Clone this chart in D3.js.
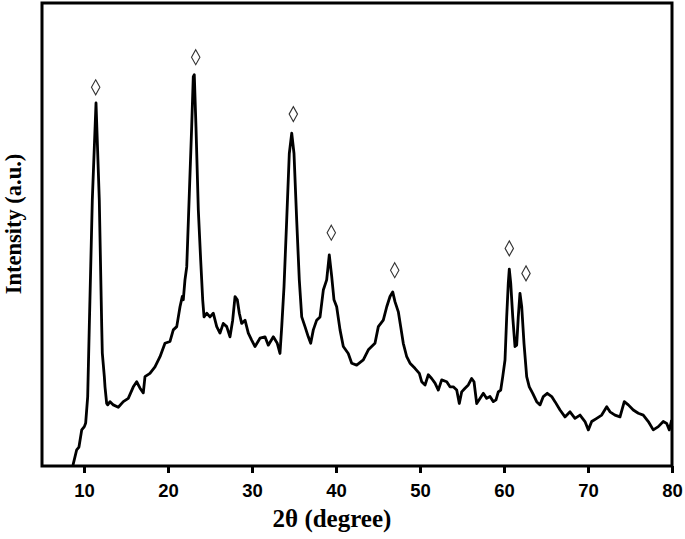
<!DOCTYPE html>
<html>
<head>
<meta charset="utf-8">
<script src="https://cdn.jsdelivr.net/npm/d3@7"></script>
<style>
  body { margin: 0; background: #fff; }
  .axis text { font-family: "Liberation Sans", Arial, sans-serif; font-weight: bold; font-size: 18.5px; fill: #000; }
  .axis line { stroke: #000; stroke-width: 3; }
  .axis path { display: none; }
  .axis_title { font-family: "Liberation Serif", "Times New Roman", serif; font-weight: bold; fill: #000; }
</style>
</head>
<body>
<div id="chart"></div>
<script>

// 2theta (degree)
let twoTheta = [8.69, 9.13, 9.40, 9.73, 10.04, 10.20, 10.44, 10.63, 10.99, 11.43,
    11.82, 12.11, 12.18, 12.42, 12.50, 12.70, 12.82, 13.10, 13.49, 14.08,
    14.68, 15.27, 15.87, 16.27, 16.67, 17.06, 17.26, 17.85, 18.45, 19.05,
    19.64, 20.24, 20.63, 21.04, 21.43, 21.70, 21.82, 22.02, 22.23, 22.54,
    22.82, 23.01, 23.13, 23.33, 23.61, 23.89, 24.13, 24.29, 24.61, 25.00,
    25.39, 25.80, 26.19, 26.58, 26.99, 27.38, 27.70, 27.98, 28.25, 28.49,
    28.77, 29.17, 29.56, 29.96, 30.36, 30.95, 31.55, 31.94, 32.54, 33.01,
    33.33, 33.54, 33.81, 34.13, 34.44, 34.73, 35.00, 35.32, 35.63, 35.92,
    36.31, 36.70, 36.99, 37.30, 37.70, 38.10, 38.49, 38.89, 39.20, 39.49,
    39.76, 40.08, 40.48, 40.87, 41.46, 41.87, 42.46, 43.25, 43.85, 44.64,
    45.04, 45.63, 46.04, 46.43, 46.75, 47.02, 47.42, 47.70, 48.01, 48.42,
    48.81, 49.40, 49.92, 50.20, 50.60, 50.99, 51.39, 51.79, 52.18, 52.58,
    53.18, 53.57, 53.96, 54.37, 54.68, 54.96, 55.36, 55.75, 56.15, 56.43,
    56.75, 57.14, 57.54, 57.94, 58.33, 58.73, 59.05, 59.32, 59.61, 59.85,
    60.12, 60.32, 60.51, 60.63, 60.80, 61.04, 61.31, 61.51, 61.70, 61.90,
    62.11, 62.38, 62.70, 63.01, 63.42, 63.89, 64.29, 64.68, 65.15, 65.68,
    66.07, 66.67, 67.26, 67.86, 68.45, 69.05, 69.64, 70.04, 70.44, 71.04,
    71.63, 72.23, 72.62, 73.21, 73.81, 74.32, 74.80, 75.39, 75.99, 76.58,
    77.18, 77.77, 78.37, 78.96, 79.37, 79.68, 79.96];

// intensity (a.u.)
let intensity = [2, 35, 41, 78, 85, 93, 150, 301, 575, 784,
    575, 301, 244, 193, 171, 135, 132, 139, 132, 127,
    139, 146, 171, 182, 168, 158, 193, 200, 214, 236,
    265, 269, 294, 301, 344, 366, 359, 402, 430, 589,
    733, 841, 845, 733, 553, 445, 359, 322, 330, 322,
    330, 301, 287, 308, 301, 279, 315, 366, 359, 330,
    308, 315, 287, 272, 258, 276, 279, 261, 279, 265,
    243, 301, 387, 531, 675, 719, 675, 531, 402, 322,
    301, 279, 265, 294, 315, 322, 380, 402, 456, 409,
    359, 344, 294, 258, 243, 222, 218, 229, 251, 265,
    301, 315, 344, 366, 376, 355, 333, 301, 265, 236,
    222, 211, 200, 182, 175, 197, 189, 179, 164, 186,
    182, 171, 171, 164, 135, 160, 168, 175, 189, 182,
    135, 146, 157, 146, 150, 139, 143, 160, 164, 193,
    229, 322, 395, 425, 395, 322, 258, 261, 322, 373,
    344, 265, 193, 171, 157, 139, 132, 150, 157, 150,
    139, 121, 106, 117, 103, 110, 96, 78, 96, 103,
    110, 128, 117, 110, 106, 139, 132, 121, 114, 110,
    96, 78, 85, 96, 92, 78, 99];

// diamond markers above the reflections
let markerTheta = [11.39, 23.30, 34.92, 39.44, 46.99, 60.63, 62.62];
let markerLevel = [818, 883, 760, 504, 423, 470, 416];

let xTicks = [10, 20, 30, 40, 50, 60, 70, 80];

let data = twoTheta.map((t, i) => ({ x: t, y: intensity[i] }));
let markers = markerTheta.map((t, i) => ({ x: t, y: markerLevel[i] }));

let margin = { top: 3, right: 13, bottom: 73, left: 42 };
let width = 685 - margin.left - margin.right;
let height = 539 - margin.top - margin.bottom;

let svg = d3.select("#chart").append("svg")
    .attr("width", 685)
    .attr("height", 539)
    .append("g")
    .attr("transform", "translate(" + margin.left + "," + margin.top + ")");

let xScale = d3.scaleLinear().domain([5, 80]).range([0, width]);
let yScale = d3.scaleLinear().domain([0, 1000]).range([height, 0]);

let xAxis = d3.axisBottom(xScale)
    .tickValues(xTicks)
    .tickSizeInner(7)
    .tickSizeOuter(0)
    .tickPadding(11);

svg.append("g")
    .attr("class", "x-axis axis")
    .attr("transform", "translate(0," + height + ")")
    .call(xAxis);

// pattern
let line = d3.line()
    .x(d => xScale(d.x))
    .y(d => yScale(d.y));

svg.append("path")
    .datum(data)
    .attr("d", line)
    .attr("fill", "none")
    .attr("stroke", "#000")
    .attr("stroke-width", 2.8)
    .attr("stroke-linejoin", "round");

// diamonds
svg.selectAll(".marker")
    .data(markers)
    .enter()
    .append("path")
    .attr("class", "marker")
    .attr("d", d => {
        let cx = xScale(d.x), cy = yScale(d.y);
        return "M" + cx + "," + (cy - 7.5) + "L" + (cx + 4.2) + "," + cy +
            "L" + cx + "," + (cy + 7.5) + "L" + (cx - 4.2) + "," + cy + "Z";
    })
    .attr("fill", "none")
    .attr("stroke", "#333")
    .attr("stroke-width", 1.1);

// frame
svg.append("rect")
    .attr("x", 0)
    .attr("y", 0)
    .attr("width", width)
    .attr("height", height)
    .attr("fill", "none")
    .attr("stroke", "#000")
    .attr("stroke-width", 3);

svg.append("text")
    .attr("class", "axis_title")
    .attr("x", 290)
    .attr("y", height + 61)
    .attr("text-anchor", "middle")
    .style("font-size", "25px")
    .text("2θ (degree)");

svg.append("text")
    .attr("class", "axis_title")
    .attr("transform", "translate(" + (-21) + "," + (224 - margin.top) + ")rotate(-90)")
    .attr("text-anchor", "middle")
    .style("font-size", "22.5px")
    .text("Intensity (a.u.)");

</script>
</body>
</html>
